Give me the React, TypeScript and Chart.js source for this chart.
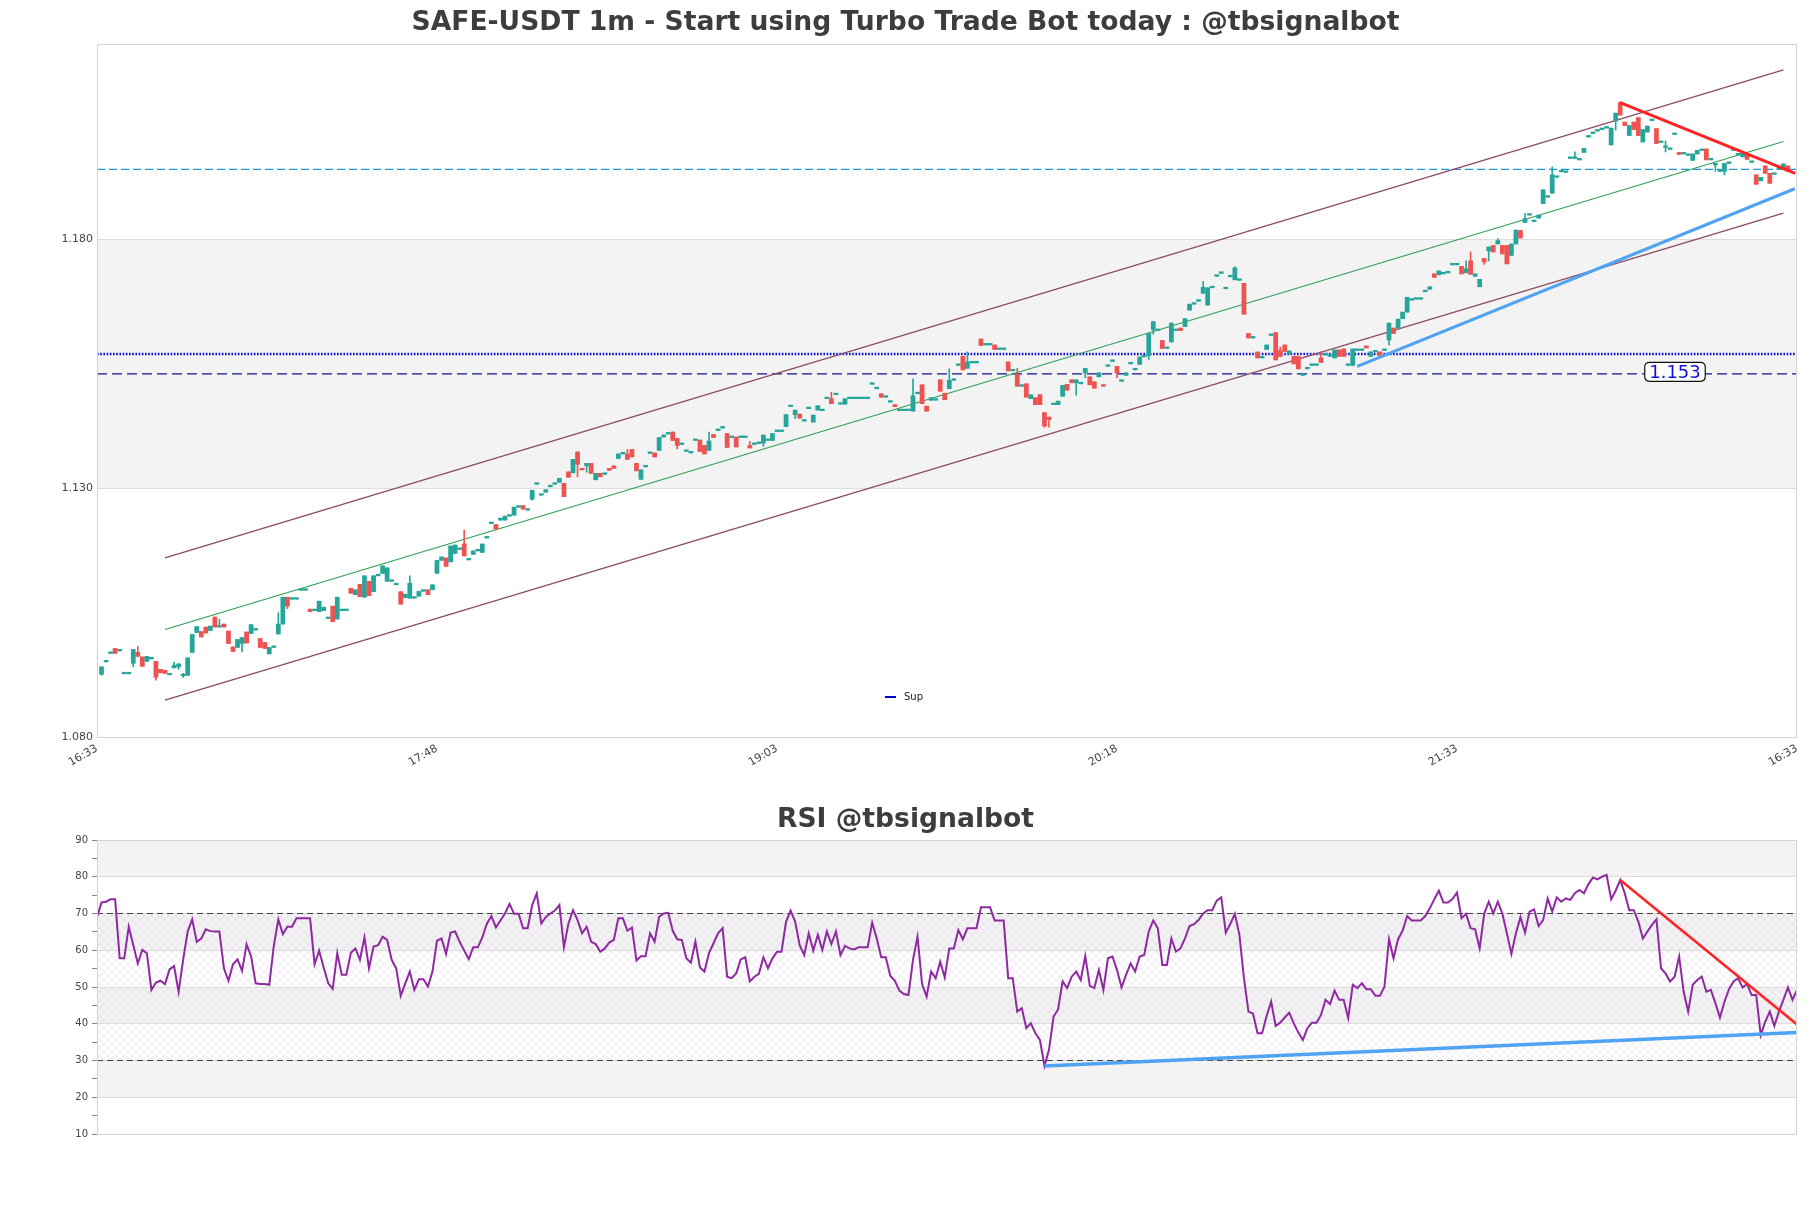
import React, { useEffect, useRef } from 'react';
import { Chart, registerables } from 'chart.js';

Chart.register(...registerables);

// ---------------- data ----------------
const titleMain = 'SAFE-USDT 1m - Start using Turbo Trade Bot today : @tbsignalbot';
const titleRsi = 'RSI @tbsignalbot';
const xTickValues = [0, 75, 150, 225, 300, 375];
const xTickLabels = ['16:33', '17:48', '19:03', '20:18', '21:33', '16:33'];
const priceTicks = [1.08, 1.13, 1.18];
const priceRange = [1.08, 1.2193];
const priceBands = [[1.13, 1.18]];
const rsiRange = [10, 90];
const rsiBands = [[80, 90], [60, 70], [40, 50], [20, 30]];
const rsiHatch = [30, 70];
const rsiLevels = [70, 30];
const firstCandleIndex = 1;

// [open, high, low, close], one per minute starting at index 1
const candles: [number, number, number, number][] = [
  [1.0926,1.0941,1.0924,1.0941],[1.0951,1.0951,1.0951,1.0951],[1.0968,1.0968,1.0968,1.0968],[1.0978,1.0978,1.0968,1.0968],[1.0973,1.0973,1.0973,1.0973],
  [1.0927,1.0927,1.0927,1.0927],[1.0927,1.0927,1.0927,1.0927],[1.0948,1.0976,1.0941,1.0976],[1.0970,1.0982,1.0962,1.0962],[1.0961,1.0961,1.0942,1.0942],
  [1.0952,1.0962,1.0952,1.0962],[1.0957,1.0957,1.0957,1.0957],[1.0952,1.0952,1.0914,1.0920],[1.0936,1.0936,1.0929,1.0929],[1.0934,1.0934,1.0928,1.0928],
  [1.0925,1.0925,1.0925,1.0925],[1.0939,1.0950,1.0939,1.0944],[1.0941,1.0947,1.0936,1.0947],[1.0923,1.0928,1.0920,1.0923],[1.0924,1.0959,1.0924,1.0959],
  [1.0970,1.1006,1.0970,1.1006],[1.1010,1.1022,1.1010,1.1022],[1.1012,1.1012,1.1001,1.1001],[1.1021,1.1021,1.1009,1.1009],[1.1014,1.1023,1.1014,1.1023],
  [1.1041,1.1041,1.1021,1.1021],[1.1021,1.1037,1.1021,1.1021],[1.1027,1.1027,1.1021,1.1021],[1.1013,1.1013,1.0988,1.0988],[1.0981,1.0981,1.0972,1.0972],
  [1.0980,1.0996,1.0980,1.0996],[1.0988,1.1000,1.0971,1.1000],[1.1011,1.1011,1.0989,1.0989],[1.1008,1.1026,1.1008,1.1026],[1.1015,1.1015,1.1015,1.1015],
  [1.0998,1.0998,1.0980,1.0980],[1.0990,1.0990,1.0978,1.0978],[1.0967,1.0980,1.0967,1.0980],[1.0980,1.0980,1.0980,1.0980],[1.1007,1.1050,1.1007,1.1027],
  [1.1027,1.1081,1.1027,1.1081],[1.1081,1.1081,1.1058,1.1063],[1.1077,1.1077,1.1077,1.1077],[1.1077,1.1077,1.1077,1.1077],[1.1095,1.1095,1.1095,1.1095],
  [1.1095,1.1095,1.1095,1.1095],[1.1057,1.1057,1.1052,1.1052],[1.1054,1.1054,1.1054,1.1054],[1.1052,1.1073,1.1052,1.1073],[1.1054,1.1061,1.1054,1.1061],
  [1.1038,1.1038,1.1038,1.1038],[1.1063,1.1063,1.1032,1.1032],[1.1037,1.1081,1.1037,1.1081],[1.1054,1.1054,1.1054,1.1054],[1.1054,1.1054,1.1054,1.1054],
  [1.1099,1.1099,1.1089,1.1089],[1.1086,1.1096,1.1086,1.1096],[1.1107,1.1107,1.1082,1.1082],[1.1081,1.1124,1.1081,1.1124],[1.1113,1.1113,1.1084,1.1084],
  [1.1092,1.1124,1.1092,1.1124],[1.1124,1.1124,1.1124,1.1124],[1.1129,1.1144,1.1129,1.1144],[1.1113,1.1140,1.1113,1.1140],[1.1113,1.1113,1.1113,1.1113],
  [1.1106,1.1106,1.1106,1.1106],[1.1092,1.1092,1.1067,1.1067],[1.1080,1.1087,1.1080,1.1087],[1.1079,1.1124,1.1079,1.1109],[1.1079,1.1079,1.1079,1.1079],
  [1.1083,1.1093,1.1083,1.1093],[1.1093,1.1093,1.1093,1.1093],[1.1096,1.1096,1.1086,1.1086],[1.1096,1.1106,1.1096,1.1106],[1.1129,1.1155,1.1129,1.1155],
  [1.1155,1.1162,1.1155,1.1162],[1.1160,1.1160,1.1143,1.1143],[1.1152,1.1184,1.1152,1.1184],[1.1169,1.1186,1.1169,1.1186],[1.1177,1.1177,1.1177,1.1177],
  [1.1188,1.1216,1.1164,1.1164],[1.1156,1.1156,1.1156,1.1156],[1.1167,1.1174,1.1167,1.1174],[1.1174,1.1174,1.1174,1.1174],[1.1171,1.1188,1.1171,1.1188],
  [1.1200,1.1200,1.1200,1.1200],[1.1229,1.1229,1.1229,1.1229],[1.1227,1.1227,1.1218,1.1218],[1.1236,1.1240,1.1236,1.1240],[1.1236,1.1244,1.1236,1.1244],
  [1.1244,1.1244,1.1244,1.1244],[1.1246,1.1262,1.1246,1.1262],[1.1262,1.1262,1.1262,1.1262],[1.1265,1.1265,1.1258,1.1258],[1.1256,1.1256,1.1256,1.1256],
  [1.1278,1.1296,1.1276,1.1296],[1.1308,1.1308,1.1308,1.1308],[1.1286,1.1286,1.1286,1.1286],[1.1292,1.1297,1.1292,1.1297],[1.1303,1.1303,1.1303,1.1303],
  [1.1308,1.1308,1.1308,1.1308],[1.1312,1.1320,1.1312,1.1320],[1.1310,1.1310,1.1283,1.1283],[1.1333,1.1333,1.1322,1.1322],[1.1331,1.1358,1.1331,1.1358],
  [1.1373,1.1373,1.1323,1.1348],[1.1340,1.1340,1.1337,1.1337],[1.1345,1.1350,1.1332,1.1350],[1.1350,1.1350,1.1330,1.1330],[1.1317,1.1330,1.1317,1.1330],
  [1.1330,1.1330,1.1323,1.1323],[1.1328,1.1328,1.1328,1.1328],[1.1340,1.1340,1.1336,1.1336],[1.1345,1.1345,1.1340,1.1340],[1.1360,1.1369,1.1360,1.1369],
  [1.1369,1.1369,1.1369,1.1369],[1.1369,1.1378,1.1358,1.1358],[1.1378,1.1378,1.1363,1.1363],[1.1350,1.1350,1.1335,1.1335],[1.1318,1.1337,1.1318,1.1337],
  [1.1343,1.1343,1.1343,1.1343],[1.1370,1.1370,1.1370,1.1370],[1.1371,1.1371,1.1363,1.1363],[1.1376,1.1402,1.1376,1.1402],[1.1403,1.1407,1.1403,1.1407],
  [1.1409,1.1409,1.1409,1.1409],[1.1413,1.1413,1.1396,1.1396],[1.1400,1.1400,1.1379,1.1386],[1.1388,1.1388,1.1388,1.1388],[1.1374,1.1374,1.1374,1.1374],
  [1.1371,1.1371,1.1371,1.1371],[1.1396,1.1396,1.1396,1.1396],[1.1397,1.1397,1.1374,1.1374],[1.1386,1.1386,1.1369,1.1369],[1.1376,1.1413,1.1376,1.1395],
  [1.1408,1.1408,1.1402,1.1402],[1.1416,1.1416,1.1416,1.1416],[1.1421,1.1421,1.1421,1.1421],[1.1410,1.1410,1.1382,1.1382],[1.1402,1.1402,1.1402,1.1402],
  [1.1403,1.1403,1.1383,1.1383],[1.1402,1.1402,1.1402,1.1402],[1.1402,1.1402,1.1402,1.1402],[1.1386,1.1394,1.1381,1.1381],[1.1388,1.1388,1.1388,1.1388],
  [1.1390,1.1390,1.1390,1.1390],[1.1391,1.1407,1.1384,1.1407],[1.1396,1.1396,1.1396,1.1396],[1.1396,1.1410,1.1396,1.1410],[1.1414,1.1414,1.1414,1.1414],
  [1.1414,1.1414,1.1414,1.1414],[1.1424,1.1448,1.1424,1.1448],[1.1464,1.1464,1.1464,1.1464],[1.1448,1.1457,1.1440,1.1457],[1.1449,1.1449,1.1441,1.1441],
  [1.1435,1.1435,1.1435,1.1435],[1.1460,1.1460,1.1460,1.1460],[1.1433,1.1447,1.1433,1.1447],[1.1457,1.1466,1.1457,1.1466],[1.1456,1.1456,1.1456,1.1456],
  [1.1480,1.1480,1.1480,1.1480],[1.1480,1.1493,1.1470,1.1470],[1.1488,1.1488,1.1488,1.1488],[1.1469,1.1469,1.1469,1.1469],[1.1469,1.1480,1.1469,1.1480],
  [1.1480,1.1480,1.1480,1.1480],[1.1480,1.1480,1.1480,1.1480],[1.1480,1.1480,1.1480,1.1480],[1.1480,1.1480,1.1480,1.1480],[1.1480,1.1480,1.1480,1.1480],
  [1.1509,1.1509,1.1509,1.1509],[1.1500,1.1500,1.1500,1.1500],[1.1490,1.1490,1.1483,1.1483],[1.1483,1.1483,1.1483,1.1483],[1.1473,1.1473,1.1473,1.1473],
  [1.1468,1.1468,1.1464,1.1464],[1.1456,1.1456,1.1456,1.1456],[1.1456,1.1456,1.1456,1.1456],[1.1456,1.1456,1.1456,1.1456],[1.1455,1.1520,1.1455,1.1486],
  [1.1490,1.1490,1.1490,1.1490],[1.1508,1.1508,1.1470,1.1470],[1.1465,1.1465,1.1455,1.1455],[1.1477,1.1482,1.1477,1.1482],[1.1477,1.1477,1.1477,1.1477],
  [1.1518,1.1518,1.1495,1.1495],[1.1491,1.1491,1.1478,1.1478],[1.1500,1.1540,1.1500,1.1517],[1.1517,1.1517,1.1517,1.1517],[1.1547,1.1547,1.1547,1.1547],
  [1.1565,1.1565,1.1538,1.1538],[1.1541,1.1574,1.1541,1.1554],[1.1552,1.1552,1.1552,1.1552],[1.1552,1.1552,1.1552,1.1552],[1.1600,1.1600,1.1587,1.1587],
  [1.1588,1.1588,1.1588,1.1588],[1.1588,1.1588,1.1588,1.1588],[1.1588,1.1588,1.1579,1.1579],[1.1579,1.1579,1.1579,1.1579],[1.1579,1.1579,1.1579,1.1579],
  [1.1554,1.1554,1.1536,1.1536],[1.1536,1.1536,1.1536,1.1536],[1.1528,1.1541,1.1505,1.1505],[1.1505,1.1505,1.1505,1.1505],[1.1510,1.1510,1.1483,1.1483],
  [1.1480,1.1488,1.1480,1.1488],[1.1482,1.1482,1.1468,1.1468],[1.1488,1.1488,1.1468,1.1468],[1.1452,1.1452,1.1423,1.1425],[1.1443,1.1443,1.1423,1.1438],
  [1.1468,1.1468,1.1468,1.1468],[1.1468,1.1475,1.1468,1.1475],[1.1485,1.1507,1.1485,1.1507],[1.1509,1.1509,1.1497,1.1497],[1.1518,1.1518,1.1512,1.1512],
  [1.1512,1.1518,1.1487,1.1518],[1.1510,1.1510,1.1510,1.1510],[1.1532,1.1541,1.1522,1.1541],[1.1524,1.1524,1.1508,1.1508],[1.1514,1.1514,1.1501,1.1501],
  [1.1524,1.1532,1.1524,1.1532],[1.1508,1.1508,1.1505,1.1505],[1.1545,1.1545,1.1545,1.1545],[1.1555,1.1555,1.1555,1.1555],[1.1545,1.1545,1.1522,1.1532],
  [1.1515,1.1515,1.1515,1.1515],[1.1527,1.1532,1.1527,1.1532],[1.1550,1.1550,1.1550,1.1550],[1.1538,1.1538,1.1538,1.1538],[1.1549,1.1564,1.1549,1.1564],
  [1.1564,1.1564,1.1564,1.1564],[1.1567,1.1611,1.1559,1.1611],[1.1619,1.1635,1.1610,1.1635],[1.1617,1.1617,1.1617,1.1617],[1.1597,1.1597,1.1581,1.1581],
  [1.1581,1.1581,1.1581,1.1581],[1.1594,1.1632,1.1594,1.1632],[1.1617,1.1617,1.1617,1.1617],[1.1622,1.1622,1.1617,1.1617],[1.1625,1.1641,1.1625,1.1641],
  [1.1658,1.1670,1.1658,1.1670],[1.1670,1.1670,1.1670,1.1670],[1.1676,1.1676,1.1676,1.1676],[1.1692,1.1716,1.1692,1.1704],[1.1668,1.1703,1.1668,1.1703],
  [1.1703,1.1703,1.1703,1.1703],[1.1726,1.1726,1.1726,1.1726],[1.1732,1.1732,1.1732,1.1732],[1.1701,1.1701,1.1701,1.1701],[1.1725,1.1725,1.1725,1.1725],
  [1.1719,1.1745,1.1719,1.1743],[1.1718,1.1718,1.1718,1.1718],[1.1712,1.1712,1.1650,1.1650],[1.1611,1.1611,1.1602,1.1602],[1.1602,1.1602,1.1602,1.1602],
  [1.1574,1.1574,1.1562,1.1562],[1.1562,1.1562,1.1562,1.1562],[1.1579,1.1588,1.1579,1.1588],[1.1607,1.1607,1.1607,1.1607],[1.1613,1.1613,1.1558,1.1558],
  [1.1577,1.1584,1.1565,1.1565],[1.1588,1.1588,1.1575,1.1575],[1.1570,1.1576,1.1570,1.1576],[1.1565,1.1565,1.1550,1.1550],[1.1565,1.1565,1.1540,1.1540],
  [1.1527,1.1527,1.1527,1.1527],[1.1540,1.1540,1.1540,1.1540],[1.1547,1.1547,1.1547,1.1547],[1.1547,1.1547,1.1547,1.1547],[1.1562,1.1574,1.1553,1.1553],
  [1.1568,1.1568,1.1568,1.1568],[1.1565,1.1565,1.1565,1.1565],[1.1562,1.1578,1.1562,1.1578],[1.1578,1.1578,1.1565,1.1565],[1.1580,1.1580,1.1565,1.1565],
  [1.1547,1.1547,1.1547,1.1547],[1.1547,1.1580,1.1547,1.1580],[1.1577,1.1577,1.1577,1.1577],[1.1577,1.1577,1.1577,1.1577],[1.1586,1.1586,1.1582,1.1582],
  [1.1565,1.1574,1.1565,1.1574],[1.1574,1.1574,1.1574,1.1574],[1.1574,1.1574,1.1567,1.1567],[1.1577,1.1577,1.1577,1.1577],[1.1598,1.1632,1.1588,1.1632],
  [1.1622,1.1622,1.1611,1.1611],[1.1622,1.1640,1.1622,1.1640],[1.1641,1.1654,1.1641,1.1654],[1.1654,1.1684,1.1654,1.1684],[1.1678,1.1678,1.1678,1.1678],
  [1.1680,1.1680,1.1680,1.1680],[1.1680,1.1680,1.1680,1.1680],[1.1695,1.1695,1.1695,1.1695],[1.1700,1.1705,1.1700,1.1705],[1.1731,1.1731,1.1724,1.1724],
  [1.1729,1.1737,1.1729,1.1737],[1.1731,1.1731,1.1731,1.1731],[1.1733,1.1733,1.1733,1.1733],[1.1749,1.1749,1.1749,1.1749],[1.1749,1.1749,1.1749,1.1749],
  [1.1746,1.1746,1.1731,1.1731],[1.1733,1.1757,1.1733,1.1741],[1.1757,1.1775,1.1730,1.1730],[1.1726,1.1731,1.1726,1.1731],[1.1705,1.1720,1.1705,1.1720],
  [1.1762,1.1762,1.1750,1.1755],[1.1777,1.1785,1.1757,1.1785],[1.1788,1.1788,1.1775,1.1775],[1.1791,1.1802,1.1791,1.1798],[1.1788,1.1788,1.1771,1.1771],
  [1.1788,1.1788,1.1751,1.1751],[1.1768,1.1791,1.1768,1.1791],[1.1791,1.1819,1.1791,1.1819],[1.1818,1.1818,1.1803,1.1803],[1.1834,1.1852,1.1834,1.1842],
  [1.1849,1.1849,1.1849,1.1849],[1.1836,1.1836,1.1836,1.1836],[1.1843,1.1849,1.1843,1.1849],[1.1872,1.1900,1.1872,1.1900],[1.1885,1.1885,1.1885,1.1885],
  [1.1893,1.1946,1.1893,1.1930],[1.1925,1.1925,1.1925,1.1925],[1.1936,1.1936,1.1936,1.1936],[1.1935,1.1935,1.1935,1.1935],[1.1963,1.1963,1.1963,1.1963],
  [1.1963,1.1976,1.1963,1.1963],[1.1960,1.1960,1.1960,1.1960],[1.1975,1.1983,1.1975,1.1983],[1.2006,1.2006,1.2006,1.2006],[1.2013,1.2013,1.2013,1.2013],
  [1.2018,1.2018,1.2018,1.2018],[1.2021,1.2021,1.2021,1.2021],[1.2024,1.2024,1.2024,1.2024],[1.1990,1.2024,1.1990,1.2024],[1.2038,1.2054,1.2020,1.2054],
  [1.2075,1.2077,1.2050,1.2050],[1.2036,1.2036,1.2029,1.2029],[1.2009,1.2029,1.2009,1.2029],[1.2036,1.2036,1.2021,1.2021],[1.2045,1.2045,1.2009,1.2009],
  [1.1996,1.2021,1.1996,1.2021],[1.2016,1.2028,1.2016,1.2028],[1.2039,1.2039,1.2039,1.2039],[1.2023,1.2023,1.1993,1.1993],[1.1995,1.1995,1.1995,1.1995],
  [1.1985,1.1998,1.1976,1.1985],[1.1981,1.1981,1.1981,1.1981],[1.2011,1.2011,1.2011,1.2011],[1.1975,1.1975,1.1971,1.1971],[1.1972,1.1972,1.1972,1.1972],
  [1.1969,1.1969,1.1969,1.1969],[1.1959,1.1972,1.1959,1.1972],[1.1972,1.1979,1.1972,1.1979],[1.1979,1.1979,1.1979,1.1979],[1.1982,1.1982,1.1960,1.1960],
  [1.1960,1.1960,1.1960,1.1960],[1.1950,1.1950,1.1937,1.1950],[1.1937,1.1937,1.1937,1.1937],[1.1937,1.1953,1.1930,1.1953],[1.1953,1.1953,1.1953,1.1953],
  [1.1979,1.1979,1.1979,1.1979],[1.1970,1.1970,1.1970,1.1970],[1.1966,1.1973,1.1966,1.1973],[1.1973,1.1973,1.1961,1.1961],[1.1955,1.1955,1.1955,1.1955],
  [1.1930,1.1930,1.1911,1.1911],[1.1918,1.1925,1.1918,1.1925],[1.1948,1.1948,1.1933,1.1933],[1.1933,1.1933,1.1913,1.1913],[1.1931,1.1931,1.1931,1.1931],
  [1.1941,1.1941,1.1941,1.1941],[1.1941,1.1952,1.1941,1.1952],[1.1948,1.1948,1.1937,1.1937],
];

// RSI, one value per index 0..375
const rsiValues = [
  69.0, 73.0, 73.2, 73.9, 73.9, 57.8, 57.8, 66.4, 61.4, 56.4,
  60.1, 59.2, 49.2, 51.2, 51.7, 50.8, 54.8, 55.7, 48.7, 57.4,
  65.1, 68.4, 62.3, 63.2, 65.7, 65.2, 65.1, 65.1, 55.1, 51.7,
  56.2, 57.5, 54.4, 61.6, 58.3, 51.0, 50.8, 50.8, 50.6, 61.2,
  68.4, 64.4, 66.4, 66.4, 68.7, 68.7, 68.7, 68.7, 56.2, 59.9,
  55.3, 51.0, 49.5, 59.2, 53.3, 53.3, 59.3, 60.5, 57.4, 63.5,
  55.1, 61.0, 61.4, 63.7, 62.8, 57.4, 55.1, 47.6, 51.0, 54.2,
  49.2, 52.1, 52.1, 50.1, 54.2, 62.6, 63.2, 59.0, 64.8, 65.1,
  62.3, 59.9, 57.6, 60.8, 60.8, 63.5, 67.2, 69.3, 66.2, 68.1,
  70.0, 72.6, 69.9, 69.9, 66.0, 66.0, 72.3, 75.5, 67.3, 69.0,
  70.0, 70.8, 72.3, 60.8, 67.3, 70.9, 68.2, 64.6, 66.4, 62.3,
  61.7, 59.6, 60.5, 62.1, 62.8, 68.7, 68.7, 65.3, 66.2, 57.2,
  58.4, 58.4, 64.6, 62.3, 69.1, 70.0, 70.2, 65.3, 63.0, 62.8,
  57.8, 56.6, 62.3, 55.3, 54.2, 59.2, 61.9, 64.6, 66.0, 52.8,
  52.4, 53.7, 57.5, 58.1, 51.5, 52.8, 53.6, 58.1, 55.1, 57.8,
  59.6, 59.6, 67.8, 70.8, 67.8, 61.4, 58.7, 64.6, 59.9, 64.2,
  60.1, 65.1, 61.7, 65.1, 58.7, 61.2, 60.5, 60.2, 60.8, 60.8,
  60.8, 67.5, 63.2, 58.1, 58.1, 53.0, 51.7, 49.0, 48.1, 47.8,
  57.4, 63.7, 50.8, 47.4, 54.2, 52.4, 56.9, 52.6, 60.5, 60.5,
  65.5, 63.0, 66.0, 66.0, 66.0, 71.7, 71.7, 71.7, 68.1, 68.1,
  68.1, 52.4, 52.4, 43.3, 44.2, 38.8, 40.1, 37.4, 35.6, 28.5,
  32.9, 41.9, 43.9, 51.5, 49.7, 52.8, 54.2, 51.9, 58.4, 50.3,
  49.7, 54.6, 49.2, 57.8, 58.3, 54.6, 49.9, 53.3, 56.4, 54.2,
  58.3, 58.7, 65.1, 68.1, 66.0, 56.0, 56.0, 63.2, 59.6, 60.5,
  63.2, 66.6, 67.1, 68.2, 70.0, 70.9, 70.9, 73.5, 74.4, 64.8,
  67.2, 69.9, 64.2, 52.4, 43.3, 42.8, 37.4, 37.4, 42.1, 46.0,
  39.4, 40.3, 41.7, 43.0, 40.1, 37.6, 35.6, 38.8, 40.3, 40.3,
  42.4, 46.5, 45.4, 49.0, 46.5, 46.5, 41.5, 50.6, 49.7, 51.0,
  49.4, 49.4, 47.6, 47.6, 50.1, 63.0, 57.8, 63.0, 65.3, 69.3,
  68.1, 68.1, 68.1, 69.3, 71.4, 73.9, 76.2, 73.0, 73.0, 73.9,
  75.7, 68.7, 69.9, 66.0, 65.7, 60.5, 69.9, 73.2, 70.0, 73.2,
  70.0, 64.6, 59.0, 64.6, 69.0, 64.8, 70.5, 71.1, 66.6, 68.2,
  74.1, 70.5, 74.4, 73.2, 74.1, 73.7, 75.5, 76.4, 75.5, 78.0,
  79.8, 79.3, 80.0, 80.5, 73.9, 76.2, 79.1, 75.5, 70.9, 70.9,
  67.8, 63.2, 65.1, 66.9, 68.4, 55.1, 53.7, 51.5, 52.8, 58.3,
  48.7, 43.3, 50.6, 51.9, 52.8, 48.7, 49.2, 45.6, 41.7, 46.0,
  49.4, 51.5, 52.4, 49.9, 50.8, 47.8, 47.8, 36.9, 40.6, 43.3,
  39.4, 43.3, 46.5, 49.9, 46.5, 49.2,
];

const channelX = [15, 372];
const channelUpper = [1.1160, 1.2141];
const channelMiddle = [1.1016, 1.1997];
const channelLower = [1.0874, 1.1853];
const supportLineX = [278, 374.5];
const supportLineY = [1.1545, 1.1902];
const resistanceLineX = [336, 374.6];
const resistanceLineY = [1.2075, 1.1933];
const levelUpper = 1.1941;
const levelSup = 1.1570;
const levelLower = 1.1530;
const levelLabel = '1.153';
const legendLabels = ['Sup'];
const rsiSupportX = [209, 375];
const rsiSupportY = [28.5, 37.6];
const rsiResistX = [336, 375];
const rsiResistY = [79.1, 39.8];

// ---------------- styling / layout ----------------
const PAGE_W = 1811;
const MAIN_H = 780;
const RSI_H = 428;
const Y_AXIS_W = 97;
const RIGHT_PAD = 14;
const FONT = '"DejaVu Sans", "Liberation Sans", sans-serif';
const UP = '#26a69a';
const DOWN = '#ef5350';
const X_MIN = xTickValues[0];
const X_MAX = xTickValues[xTickValues.length - 1];

Chart.defaults.font.family = FONT;

function pts(xs: number[], ys: number[]) {
  return xs.map((x, k) => ({ x, y: ys[k] }));
}
function hLine(y: number) {
  return [{ x: X_MIN, y }, { x: X_MAX, y }];
}

function drawTitle(ctx: CanvasRenderingContext2D, text: string, y: number) {
  ctx.save();
  ctx.font = `bold 26.6px ${FONT}`;
  ctx.fillStyle = '#3d3d3d';
  ctx.textAlign = 'center';
  ctx.textBaseline = 'middle';
  ctx.fillText(text, PAGE_W / 2, y);
  ctx.restore();
}

function drawFrame(chart: any) {
  const { ctx, chartArea: a } = chart;
  ctx.save();
  ctx.strokeStyle = '#d4d4d4';
  ctx.lineWidth = 1;
  ctx.strokeRect(Math.round(a.left) + 0.5, Math.round(a.top) + 0.5, Math.round(a.right - a.left) - 1, Math.round(a.bottom - a.top));
  ctx.restore();
}

function roundRect(ctx: CanvasRenderingContext2D, x: number, y: number, w: number, h: number, r: number) {
  ctx.beginPath();
  ctx.moveTo(x + r, y);
  ctx.lineTo(x + w - r, y);
  ctx.quadraticCurveTo(x + w, y, x + w, y + r);
  ctx.lineTo(x + w, y + h - r);
  ctx.quadraticCurveTo(x + w, y + h, x + w - r, y + h);
  ctx.lineTo(x + r, y + h);
  ctx.quadraticCurveTo(x, y + h, x, y + h - r);
  ctx.lineTo(x, y + r);
  ctx.quadraticCurveTo(x, y, x + r, y);
  ctx.closePath();
}

const mainDecor = {
  id: 'mainDecor',
  beforeDraw(chart: any) {
    const { ctx, chartArea: a, scales } = chart;
    const y = scales.y;
    ctx.save();
    ctx.fillStyle = '#ffffff';
    ctx.fillRect(0, 0, chart.width, chart.height);
    ctx.fillStyle = '#f3f3f3';
    for (const [lo, hi] of priceBands) {
      const t = y.getPixelForValue(hi);
      const b = y.getPixelForValue(lo);
      ctx.fillRect(a.left, t, a.right - a.left, b - t);
    }
    ctx.restore();
  },
  afterDraw(chart: any) {
    const { ctx, chartArea: a, scales } = chart;
    drawFrame(chart);
    drawTitle(ctx, titleMain, 23);
    // legend (inside plot, bottom centre)
    ctx.save();
    const ly = a.bottom - 40;
    const lx = 885;
    ctx.strokeStyle = '#0000cc';
    ctx.lineWidth = 2;
    ctx.beginPath();
    ctx.moveTo(lx, ly);
    ctx.lineTo(lx + 11, ly);
    ctx.stroke();
    ctx.font = `10px ${FONT}`;
    ctx.fillStyle = '#222';
    ctx.textAlign = 'left';
    ctx.textBaseline = 'middle';
    ctx.fillText(legendLabels[0], lx + 19, ly);
    // price label box
    const py = scales.y.getPixelForValue(levelLower) - 2;
    ctx.font = `18px ${FONT}`;
    const tw = ctx.measureText(levelLabel).width;
    const bw = tw + 9;
    const bh = 19;
    const cx = 1675;
    roundRect(ctx, cx - bw / 2, py - bh / 2, bw, bh, 5);
    ctx.fillStyle = '#ffffff';
    ctx.fill();
    ctx.strokeStyle = '#111';
    ctx.lineWidth = 1.2;
    ctx.stroke();
    ctx.fillStyle = '#1010e0';
    ctx.textAlign = 'center';
    ctx.textBaseline = 'middle';
    ctx.fillText(levelLabel, cx, py + 1);
    ctx.restore();
  },
};

function makeHatch(ctx: CanvasRenderingContext2D) {
  const c = document.createElement('canvas');
  c.width = 8;
  c.height = 8;
  const g = c.getContext('2d')!;
  g.strokeStyle = 'rgba(175,150,205,0.32)';
  g.lineWidth = 0.6;
  g.beginPath();
  g.moveTo(0, 8); g.lineTo(8, 0);
  g.moveTo(-1, 1); g.lineTo(1, -1);
  g.moveTo(7, 9); g.lineTo(9, 7);
  g.moveTo(0, 0); g.lineTo(8, 8);
  g.moveTo(-1, 7); g.lineTo(1, 9);
  g.moveTo(7, -1); g.lineTo(9, 1);
  g.stroke();
  return ctx.createPattern(c, 'repeat');
}

const rsiDecor = {
  id: 'rsiDecor',
  beforeDraw(chart: any) {
    const { ctx, chartArea: a, scales } = chart;
    const y = scales.y;
    ctx.save();
    ctx.fillStyle = '#ffffff';
    ctx.fillRect(0, 0, chart.width, chart.height);
    ctx.fillStyle = '#f3f3f3';
    for (const [lo, hi] of rsiBands) {
      const t = y.getPixelForValue(hi);
      const b = y.getPixelForValue(lo);
      ctx.fillRect(a.left, t, a.right - a.left, b - t);
    }
    const pat = makeHatch(ctx);
    if (pat) {
      ctx.fillStyle = pat;
      const t = y.getPixelForValue(rsiHatch[1]);
      const b = y.getPixelForValue(rsiHatch[0]);
      ctx.fillRect(a.left, t, a.right - a.left, b - t);
    }
    ctx.restore();
  },
  afterDraw(chart: any) {
    drawFrame(chart);
    drawTitle(chart.ctx, titleRsi, 40);
  },
};

export default function App() {
  const mainRef = useRef<HTMLCanvasElement | null>(null);
  const rsiRef = useRef<HTMLCanvasElement | null>(null);

  useEffect(() => {
    const colors = candles.map((c) => (c[3] >= c[0] ? UP : DOWN));
    const bodies = candles.map((c, k) => ({ x: k + firstCandleIndex, y: [c[0], c[3]] }));
    const wicks = candles.map((c, k) => ({ x: k + firstCandleIndex, y: [c[2], c[1]] }));

    const line = (data: any[], color: string, width: number, order: number, dash: number[] = []) => ({
      type: 'line',
      data,
      borderColor: color,
      backgroundColor: color,
      borderWidth: width,
      borderDash: dash,
      pointRadius: 0,
      pointHoverRadius: 0,
      fill: false,
      tension: 0,
      order,
    });

    const main = new Chart(mainRef.current!, {
      type: 'bar',
      data: {
        datasets: [
          line(pts(resistanceLineX, resistanceLineY), '#ff2424', 3, 0),
          line(pts(supportLineX, supportLineY), '#4fa3f2', 3.2, 0),
          {
            type: 'bar',
            data: bodies,
            backgroundColor: colors,
            borderWidth: 0,
            barThickness: 4.1,
            minBarLength: 1.6,
            grouped: false,
            order: 1,
          },
          {
            type: 'bar',
            data: wicks,
            backgroundColor: colors,
            borderWidth: 0,
            barThickness: 1,
            grouped: false,
            order: 2,
          },
          line(pts(channelX, channelUpper), '#8a4a60', 1.2, 3),
          line(pts(channelX, channelMiddle), '#2f9e55', 1.1, 3),
          line(pts(channelX, channelLower), '#8a4a60', 1.2, 3),
          line(hLine(levelUpper), '#2196d8', 1.2, 4, [8, 4]),
          line(hLine(levelSup), '#0a0ad6', 2.6, 4, [1.6, 1.6]),
          line(hLine(levelLower), '#12128e', 1.3, 4, [10, 5]),
        ] as any,
      },
      options: {
        animation: false,
        responsive: false,
        devicePixelRatio: 1,
        events: [],
        layout: { padding: { top: 44, left: 0, right: RIGHT_PAD, bottom: 0 } },
        plugins: { legend: { display: false }, tooltip: { enabled: false }, title: { display: false } },
        scales: {
          x: {
            type: 'linear',
            min: X_MIN,
            max: X_MAX,
            offset: false,
            grid: { display: false },
            border: { display: false },
            afterBuildTicks: (axis: any) => {
              axis.ticks = xTickValues.map((v) => ({ value: v }));
            },
            afterFit: (axis: any) => {
              axis.height = MAIN_H - 737;
            },
            ticks: {
              autoSkip: false,
              maxRotation: 30,
              minRotation: 30,
              padding: -3,
              color: '#444',
              font: { size: 11 },
              callback: (_v: any, i: number) => xTickLabels[i],
            },
          },
          y: {
            type: 'linear',
            min: priceRange[0],
            max: priceRange[1],
            beginAtZero: false,
            border: { display: false },
            grid: { color: '#dcdcdc', lineWidth: 1, drawTicks: false },
            afterBuildTicks: (axis: any) => {
              axis.ticks = priceTicks.map((v) => ({ value: v }));
            },
            afterFit: (axis: any) => {
              axis.width = Y_AXIS_W;
            },
            ticks: {
              padding: 4,
              color: '#444',
              font: { size: 11 },
              callback: (v: any) => Number(v).toFixed(3),
            },
          },
        },
      } as any,
      plugins: [mainDecor],
    });

    const rsiChart = new Chart(rsiRef.current!, {
      type: 'line',
      data: {
        datasets: [
          line(pts(rsiResistX, rsiResistY), '#ff2424', 2.5, 0),
          line(pts(rsiSupportX, rsiSupportY), '#4fa3f2', 3.4, 0),
          line(rsiValues.map((v, i) => ({ x: i, y: v })), '#8e29a0', 2, 1),
          line(hLine(rsiLevels[0]), '#444444', 1.2, 2, [6, 4]),
          line(hLine(rsiLevels[1]), '#444444', 1.2, 2, [6, 4]),
        ] as any,
      },
      options: {
        animation: false,
        responsive: false,
        devicePixelRatio: 1,
        events: [],
        layout: { padding: { top: 60, left: 0, right: RIGHT_PAD, bottom: RSI_H - 354 } },
        plugins: { legend: { display: false }, tooltip: { enabled: false }, title: { display: false } },
        scales: {
          x: { type: 'linear', min: X_MIN, max: X_MAX, display: false },
          y: {
            type: 'linear',
            min: rsiRange[0],
            max: rsiRange[1],
            border: { display: false },
            grid: {
              color: (c: any) => (c.tick && c.tick.value % 10 === 0 ? '#dcdcdc' : 'rgba(0,0,0,0)'),
              tickColor: '#888',
              tickLength: 5,
              drawTicks: true,
            },
            afterFit: (axis: any) => {
              axis.width = Y_AXIS_W;
            },
            ticks: {
              stepSize: 5,
              padding: 4,
              color: '#444',
              font: { size: 10 },
              callback: (v: any) => (Number(v) % 10 === 0 ? String(v) : ''),
            },
          },
        },
      } as any,
      plugins: [rsiDecor],
    });

    return () => {
      main.destroy();
      rsiChart.destroy();
    };
  }, []);

  return (
    <div style={{ position: 'absolute', left: 0, top: 0, width: PAGE_W, height: MAIN_H + RSI_H, background: '#fff' }}>
      <canvas ref={mainRef} width={PAGE_W} height={MAIN_H} style={{ position: 'absolute', left: 0, top: 0, width: PAGE_W, height: MAIN_H }} />
      <canvas ref={rsiRef} width={PAGE_W} height={RSI_H} style={{ position: 'absolute', left: 0, top: MAIN_H, width: PAGE_W, height: RSI_H }} />
    </div>
  );
}
